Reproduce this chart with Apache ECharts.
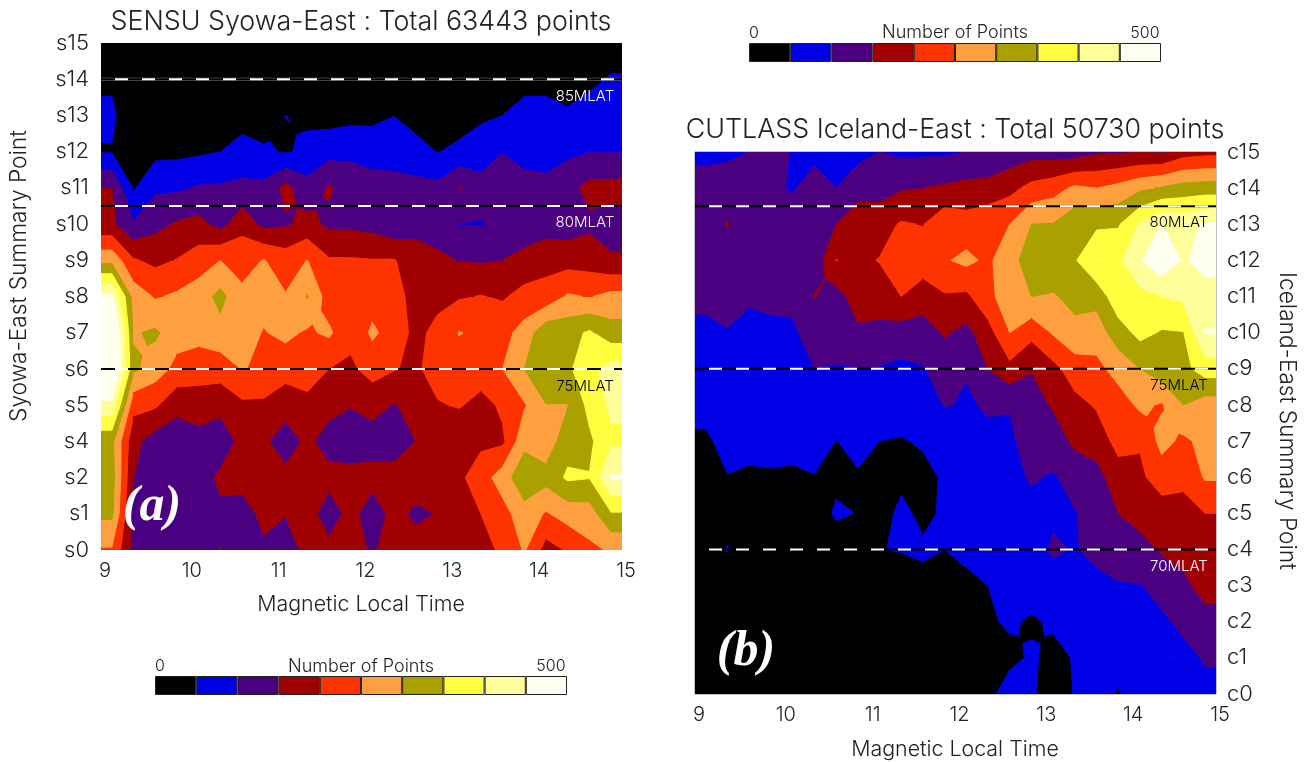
<!DOCTYPE html>
<html><head><meta charset="utf-8">
<style>html,body{margin:0;padding:0;background:#fff}#c{width:1307px;height:762px}</style>
<script src="https://cdn.jsdelivr.net/npm/echarts@6/dist/echarts.min.js"></script>
</head><body><div id="c"></div>
<script>
const bandLevels=[0,50,100,150,200,250,300,350,400,450,Infinity];
const bandColors=['#000000','#0000e6','#4b0082','#a00000','#ff3300','#ffa040','#aaa000','#ffff40','#ffff99','#fffff0'];
const mltCenters=[9.125,9.375,9.625,9.875,10.125,10.375,10.625,10.875,11.125,11.375,11.625,11.875,12.125,12.375,12.625,12.875,13.125,13.375,13.625,13.875,14.125,14.375,14.625,14.875];
const syowaLabels=['s0','s1','s2','s4','s5','s6','s7','s8','s9','s10','s11','s12','s13','s14','s15'];
const icelandLabels=['c0','c1','c2','c3','c4','c5','c6','c7','c8','c9','c10','c11','c12','c13','c14','c15'];
// one list per MLT column, bottom row first
const syowaCounts=[
[245,310,320,312,436,540,540,460,285,160,150,47,59,42,10],
[134,130,150,165,215,310,295,280,205,105,45,20,15,10,5],
[130,125,120,125,207,274,308,245,188,135,92,35,15,10,5],
[125,125,120,118,165,235,270,258,202,155,92,38,15,10,5],
[125,125,125,135,170,225,265,275,225,165,105,42,15,10,5],
[151,140,160,120,165,222,282,315,250,131,107,50,20,10,5],
[130,125,170,165,190,252,270,260,233,183,111,68,30,10,5],
[140,165,170,158,190,243,247,270,252,135,112,57,25,10,5],
[125,152,164,125,170,220,262,253,227,143,165,46,50.3,20,5],
[165,170,170,160,185,225,243,303,251,165,120,58,44,20,5],
[165,125,165,130,165,200,258,225,205,141,155,82,30,15,5],
[180,165,165,125,152,190,215,230,205,138,130,88,35,15,5],
[140,125,165,130,165,220,258,230,202,132,115,85,35,15,5],
[185,165,170,125,147,203,230,225,203,110,115,82,49,15,5],
[170,140,175,150,165,190,185,175,170,135,115,68,30,52,5],
[165,152,170,175,195,225,215,185,160,125,113,48,20,15,5],
[175,175,190,149,205,230,252,195,148,99,153,62,25,15,5],
[190,200,225,190,180,230,240,202,145,98,115,80,40,15,5],
[205,230,275,190,210,250,232,195,150,110,120,99,50,15,5],
[255,280,335,285,245,300,270,215,170,110,115,85,72,30,5],
[180,245,318,270,299,325,335,217,185,125,108,88,72,30,5],
[205,270,358,330,298,340,332,256,180,125,132,90,58,25,5],
[240,275,352,340,365,385,357,247,177,140,165,99,75,35,5],
[255,345,455,390,410,420,320,265,156,130,166,98,95,57,10]];
const icelandCounts=[
[10,15,20,25,35,40,45,45,60,75,90,110,125,130,125,85],
[10,15,20,25,52,35,49,60,70,80,98,115,130,152,125,90],
[10,15,20,25,30,35,45,60,70,85,88,105,120,125,125,100],
[10,15,20,25,30,35,46,62,72,85,90,110,125,125,110,105],
[10,15,20,25,30,35,42,65,78,85,93,110,128,125,95,99],
[10,15,20,25,25,30,48,70,80,100,120,152,118,130,125,85],
[10,15,20,25,30,55,42,49,75,97,120,128,201,150,100,70],
[10,15,20,25,30,49,45,65,80,98,140,175,190,180,130,85],
[10,15,20,25,49.5,35,44,50,75,97,135,175,202,180,130,100],
[15,25,35,40,51,58,42,47,70,90,125,200,225,205,145,90],
[15,25,30,40,55,42,38,55,75,97,125,175,225,198,150,92],
[15,25,30,40,50,55,55,65,103,120,155,195,245,238,157,92],
[20,25,35,40,60,65,75,85,95,103,135,190,262,222,165,101],
[25,30,40,50,62,68,80,90,105,150,180,235,240,240,165,110],
[90,30,60,70,70,72,85,90,103,185,250,280,285,250,185,120],
[55,60,40,85,75,85,105,125,130,152,215,300,320,300,215,130],
[30,30,60,75,108,90,95,125,155,185,255,295,335,302,230,125],
[52,55,65,75,96,97,120,160,185,225,285,315,345,337,259,125],
[60,65,70,85,115,125,130,175,205,235,275,316,402,340,250,142],
[48,60,70,98,115,150,180,215,225,270,325,385,390,345,265,145],
[60,70,80,97,135,165,190,205,260,300,365,385,445,405,290,148],
[65,75,90,120,155,175,225,265,245,330,345,400,490,450,305,145],
[70,85,112,140,165,185,210,240,300,335,348,410,445,435,320,178],
[85,105,135,165,180,200,255,265,275,374,452,432,465,455,325,185]];
const syowaMlatRows=[13,9.5,5];
const icelandMlatRows=[13.5,9,4];
const mlatEnds=[9,15];

const FONT='Inter';
const WEIGHT=300;
const INK='#222';

function clipBand(poly,level,keepAbove){
  const out=[];
  for(let i=0;i<poly.length;i++){
    const a=poly[i],b=poly[(i+1)%poly.length];
    const ai=keepAbove?a[2]>=level:a[2]<=level;
    const bi=keepAbove?b[2]>=level:b[2]<=level;
    if(ai)out.push(a);
    if(ai!==bi){const t=(level-a[2])/(b[2]-a[2]);
      out.push([a[0]+t*(b[0]-a[0]),a[1]+t*(b[1]-a[1]),level]);}
  }
  return out;
}
function hasSaddle(q){
  const a=q[0][2],b=q[1][2],c=q[2][2],d=q[3][2];
  const lo=Math.min(Math.max(a,c),Math.max(b,d)),hi=Math.max(Math.min(a,c),Math.min(b,d));
  return hi>lo&&bandLevels.some(l=>l>lo&&l<hi);
}
function cellPieces(q){
  if(!hasSaddle(q))return [q];
  const m=[(q[0][0]+q[2][0])/2,(q[0][1]+q[2][1])/2,(q[0][2]+q[1][2]+q[2][2]+q[3][2])/4];
  return q.map((p,i)=>[p,q[(i+1)%4],m]);
}
function contourSeries(counts,gridIndex){
  // the outer half cells repeat the first and last columns up to the plot edges
  const xs=[mlatEnds[0],...mltCenters,mlatEnds[1]];
  const cols=[counts[0],...counts,counts[counts.length-1]];
  const rows=counts[0].length;
  const cells=[];
  for(let i=0;i<xs.length-1;i++)for(let j=0;j<rows-1;j++)cells.push([i,j]);
  return {type:'custom',xAxisIndex:gridIndex,yAxisIndex:gridIndex,data:cells,clip:true,silent:true,
    animation:false,encode:{x:[],y:[]},
    renderItem(params,api){
      const i=api.value(0),j=api.value(1);
      const quad=[[xs[i],j,cols[i][j]],[xs[i+1],j,cols[i+1][j]],[xs[i+1],j+1,cols[i+1][j+1]],[xs[i],j+1,cols[i][j+1]]];
      const children=[];
      for(let k=0;k<bandColors.length;k++){
        cellPieces(quad).forEach(piece=>{
          let p=clipBand(piece,bandLevels[k],true);
          if(p.length&&isFinite(bandLevels[k+1]))p=clipBand(p,bandLevels[k+1],false);
          if(p.length<3)return;
          children.push({type:'polygon',shape:{points:p.map(q=>api.coord([q[0],q[1]]))},
            style:{fill:bandColors[k],stroke:bandColors[k],lineWidth:1}});
        });
      }
      return {type:'group',children};
    }};
}
function lineSeries(gridIndex,row,style,z){
  return {type:'line',xAxisIndex:gridIndex,yAxisIndex:gridIndex,symbol:'none',silent:true,animation:false,z,
    data:mlatEnds.map(x=>[x,row]),lineStyle:style};
}
function mlatLines(gridIndex,rows){
  const s=[];
  rows.forEach(r=>{
    s.push(lineSeries(gridIndex,r,{color:'#000',width:2},5));
    s.push(lineSeries(gridIndex,r,{color:'#fff',width:2,type:[13,14],dashOffset:13},6));
  });
  return s;
}
function colorbar(gridIndex){
  return {type:'bar',xAxisIndex:gridIndex,yAxisIndex:gridIndex,barWidth:'100%',silent:true,animation:false,
    data:bandColors.map((c,i)=>({value:1,itemStyle:{color:c,borderColor:'#222',borderWidth:1}}))};
}
function txt(x,y,text,size,extra){
  return {type:'text',x,y,silent:true,z:20,style:Object.assign({text,fontFamily:FONT,fontWeight:WEIGHT,fontSize:size,fill:INK,align:'center',verticalAlign:'middle'},extra||{})};
}
function rot(x,y,text,size,r){const t=txt(0,0,text,size);t.x=x;t.y=y;t.rotation=r;return t;}

const xAx=(g)=>({type:'value',gridIndex:g,min:9,max:15,interval:1,axisLine:{show:false},axisTick:{show:false},splitLine:{show:false},
  axisLabel:{fontFamily:FONT,fontWeight:WEIGHT,fontSize:20,color:INK,margin:11,padding:[0,0,0,8],hideOverlap:false,showMinLabel:true,showMaxLabel:true}});
const barCats=bandColors.map((c,i)=>String(i));
const option={
  animation:false,backgroundColor:'#fff',
  grid:[
    {left:101,right:685,top:43,bottom:212,show:false},
    {left:695,right:91,top:152,bottom:68,show:true,borderColor:'#888',borderWidth:1,backgroundColor:'transparent'},
    {left:155,right:740,top:676,bottom:67},
    {left:749,right:146,top:43,bottom:700}
  ],
  xAxis:[xAx(0),xAx(1),
    {type:'category',gridIndex:2,data:barCats,show:false},
    {type:'category',gridIndex:3,data:barCats,show:false}],
  yAxis:[
    {type:'value',gridIndex:0,min:0,max:syowaLabels.length-1,interval:1,axisLine:{show:false},axisTick:{show:false},splitLine:{show:false},
      axisLabel:{fontFamily:FONT,fontWeight:WEIGHT,fontSize:22,color:INK,margin:12,padding:[5,0,0,0],formatter:v=>syowaLabels[v]}},
    {type:'value',gridIndex:1,position:'right',min:0,max:icelandLabels.length-1,interval:1,axisLine:{show:false},axisTick:{show:false},splitLine:{show:false},
      axisLabel:{fontFamily:FONT,fontWeight:WEIGHT,fontSize:22,color:INK,margin:11,padding:[6,0,0,0],formatter:v=>icelandLabels[v]}},
    {type:'value',gridIndex:2,min:0,max:1,show:false},
    {type:'value',gridIndex:3,min:0,max:1,show:false}
  ],
  series:[contourSeries(syowaCounts,0),contourSeries(icelandCounts,1),
    lineSeries(0,syowaMlatRows[0],{color:'#777',width:3},4),
    ...mlatLines(0,syowaMlatRows),...mlatLines(1,icelandMlatRows),colorbar(2),colorbar(3)],
  graphic:[
    txt(361,22,'SENSU Syowa-East : Total 63443 points',26.8),
    txt(955,130,'CUTLASS Iceland-East : Total 50730 points',26.8),
    txt(361,605,'Magnetic Local Time',21.4),
    txt(955,750,'Magnetic Local Time',21.4),
    rot(19,276,'Syowa-East Summary Point',22.7,Math.PI/2),
    rot(1287,421,'Iceland-East Summary Point',22.7,-Math.PI/2),
    txt(160,666,'0',16),txt(361,667,'Number of Points',18),txt(551,666,'500',16),
    txt(754,33,'0',16),txt(955,33,'Number of Points',18),txt(1145,33,'500',16),
    txt(585,96,'85MLAT',15,{fill:'#fff'}),txt(585,222,'80MLAT',15,{fill:'#fff'}),txt(585,386,'75MLAT',15,{fill:'#000'}),
    txt(1179,222,'80MLAT',15,{fill:'#000'}),txt(1179,385,'75MLAT',15,{fill:'#000'}),txt(1179,566,'70MLAT',15,{fill:'#fff'}),
    txt(152,507,'(a)',50,{fontFamily:'"Liberation Serif"',fontStyle:'italic',fontWeight:'bold',fill:'#fff'}),
    txt(746,652,'(b)',50,{fontFamily:'"Liberation Serif"',fontStyle:'italic',fontWeight:'bold',fill:'#fff'})
  ]
};
echarts.init(document.getElementById('c'),null,{renderer:'canvas'}).setOption(option);
</script></body></html>
